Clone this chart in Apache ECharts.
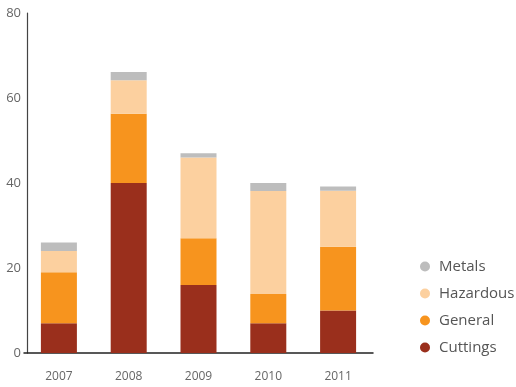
<!DOCTYPE html>
<html>
<head>
<meta charset="utf-8">
<script src="https://cdn.jsdelivr.net/npm/echarts@6/dist/echarts.min.js"></script>
<style>
  html, body { margin: 0; padding: 0; background: #fff; }
  #chart { width: 516px; height: 387px; }
</style>
</head>
<body>
<div id="chart"></div>
<script>
// Waste volumes by year, stacked by waste type
const years = ['2007', '2008', '2009', '2010', '2011'];
const cuttings = [7, 40, 16, 7, 10];
const general = [12, 16.3, 11, 6.9, 15];
const hazardous = [5, 7.9, 19, 24.2, 13.2];
const metals = [2, 1.9, 1, 1.9, 1];
const yTicks = [0, 20, 40, 60, 80];

const colors = {
  Cuttings: '#9a2f1c',
  General: '#f7941e',
  Hazardous: '#fcd09f',
  Metals: '#bdbdbd'
};

const fontFamily = '"Open Sans", "Noto Sans", sans-serif';

function bar(name, data) {
  return {
    name: name,
    type: 'bar',
    stack: 'total',
    data: data,
    barWidth: 36,
    itemStyle: { color: colors[name] },
    emphasis: { disabled: true }
  };
}

const chart = echarts.init(document.getElementById('chart'), null, { renderer: 'canvas' });
chart.setOption({
  animation: false,
  textStyle: { fontFamily: fontFamily },
  grid: { left: 24, right: 143, top: 13, bottom: 34, containLabel: false },
  legend: {
    orient: 'vertical',
    left: 415,
    top: 254,
    itemGap: 12,
    itemWidth: 10,
    itemHeight: 10,
    icon: 'circle',
    data: ['Metals', 'Hazardous', 'General', 'Cuttings'],
    textStyle: { color: '#555', fontSize: 15, fontFamily: fontFamily, padding: [0, 0, 0, 4] }
  },
  xAxis: {
    type: 'category',
    data: years,
    axisLine: { lineStyle: { color: '#222', width: 1.5 } },
    axisTick: { show: false },
    axisLabel: { color: '#666', fontSize: 12, margin: 18, fontFamily: fontFamily }
  },
  yAxis: {
    type: 'value',
    min: yTicks[0],
    max: yTicks[yTicks.length - 1],
    interval: 20,
    offset: -3,
    splitLine: { show: false },
    axisLine: { show: true, lineStyle: { color: '#444', width: 1.2 } },
    axisTick: { show: false },
    axisLabel: { color: '#666', fontSize: 13, margin: 6, fontFamily: fontFamily }
  },
  series: [
    bar('Cuttings', cuttings),
    bar('General', general),
    bar('Hazardous', hazardous),
    bar('Metals', metals)
  ]
});
</script>
</body>
</html>
